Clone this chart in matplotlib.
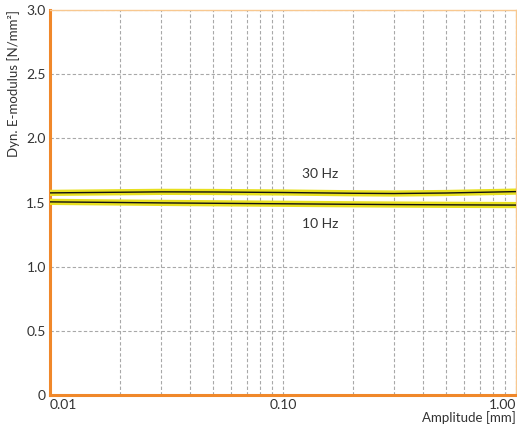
import numpy as np
import matplotlib.pyplot as plt
from matplotlib.ticker import FixedLocator, NullFormatter
import matplotlib.patheffects as pe

plt.rcParams['font.family'] = ['Lato', 'DejaVu Sans']

# amplitude [mm] and dynamic E-modulus [N/mm2]
amp = [0.01, 0.02, 0.03, 0.05, 0.1, 0.2, 0.3, 0.5, 1.0]
e_30hz = [1.575, 1.580, 1.583, 1.582, 1.578, 1.572, 1.570, 1.574, 1.585]
e_10hz = [1.505, 1.500, 1.497, 1.494, 1.490, 1.486, 1.484, 1.482, 1.480]

xticks = [0.01, 0.1, 1.0]
xticklabels = ['0.01', '0.10', '1.00']
yticks = [0, 0.5, 1.0, 1.5, 2.0, 2.5, 3.0]
yticklabels = ['0', '0.5', '1.0', '1.5', '2.0', '2.5', '3.0']

txt = '#333333'
orange = '#f0882a'

fig = plt.figure(figsize=(5.17, 4.28), dpi=100)
ax = fig.add_axes([0.0967, 0.0771, 0.901, 0.8995])

for y in (e_30hz, e_10hz):
    ax.plot(amp, y, color='#111111', lw=1.0, zorder=3,
            path_effects=[pe.Stroke(linewidth=4.5, foreground='#e8e020'), pe.Normal()])

ax.set_xscale('log')
ax.set_xlim(0.01, 1.0)
ax.set_ylim(0, 3.0)

minor = [m * d for d in (0.01, 0.1) for m in range(2, 10)]
ax.xaxis.set_major_locator(FixedLocator(xticks))
ax.xaxis.set_minor_locator(FixedLocator(minor))
ax.xaxis.set_minor_formatter(NullFormatter())
ax.set_xticks(xticks)
ax.set_xticklabels(xticklabels)
labs = ax.get_xticklabels()
labs[0].set_ha('left')
labs[-1].set_ha('right')
ax.set_yticks(yticks)
ax.set_yticklabels(yticklabels)

ax.grid(True, which='both', axis='x', color='#a8a8a8', ls=(0, (3, 2)), lw=0.8)
ax.grid(True, which='major', axis='y', color='#a8a8a8', ls=(0, (3, 2)), lw=0.8)
ax.tick_params(which='both', length=0, labelsize=10, colors=txt, pad=3)

for s in ('left', 'bottom'):
    ax.spines[s].set_color(orange)
    ax.spines[s].set_linewidth(2.2)
for s in ('top', 'right'):
    ax.spines[s].set_color('#f8c890')
    ax.spines[s].set_linewidth(1.0)

ax.text(0.145, 1.72, '30 Hz', ha='center', va='center', fontsize=10, color=txt)
ax.text(0.145, 1.33, '10 Hz', ha='center', va='center', fontsize=10, color=txt)

fig.text(0.038, 0.9766, 'Dyn. E-modulus [N/mm²]', rotation=90, ha='right', va='top',
         fontsize=9.5, color=txt)
fig.text(0.998, 0.010, 'Amplitude [mm]', ha='right', va='bottom', fontsize=9.5, color=txt)

fig.savefig('out.png', dpi=100)
